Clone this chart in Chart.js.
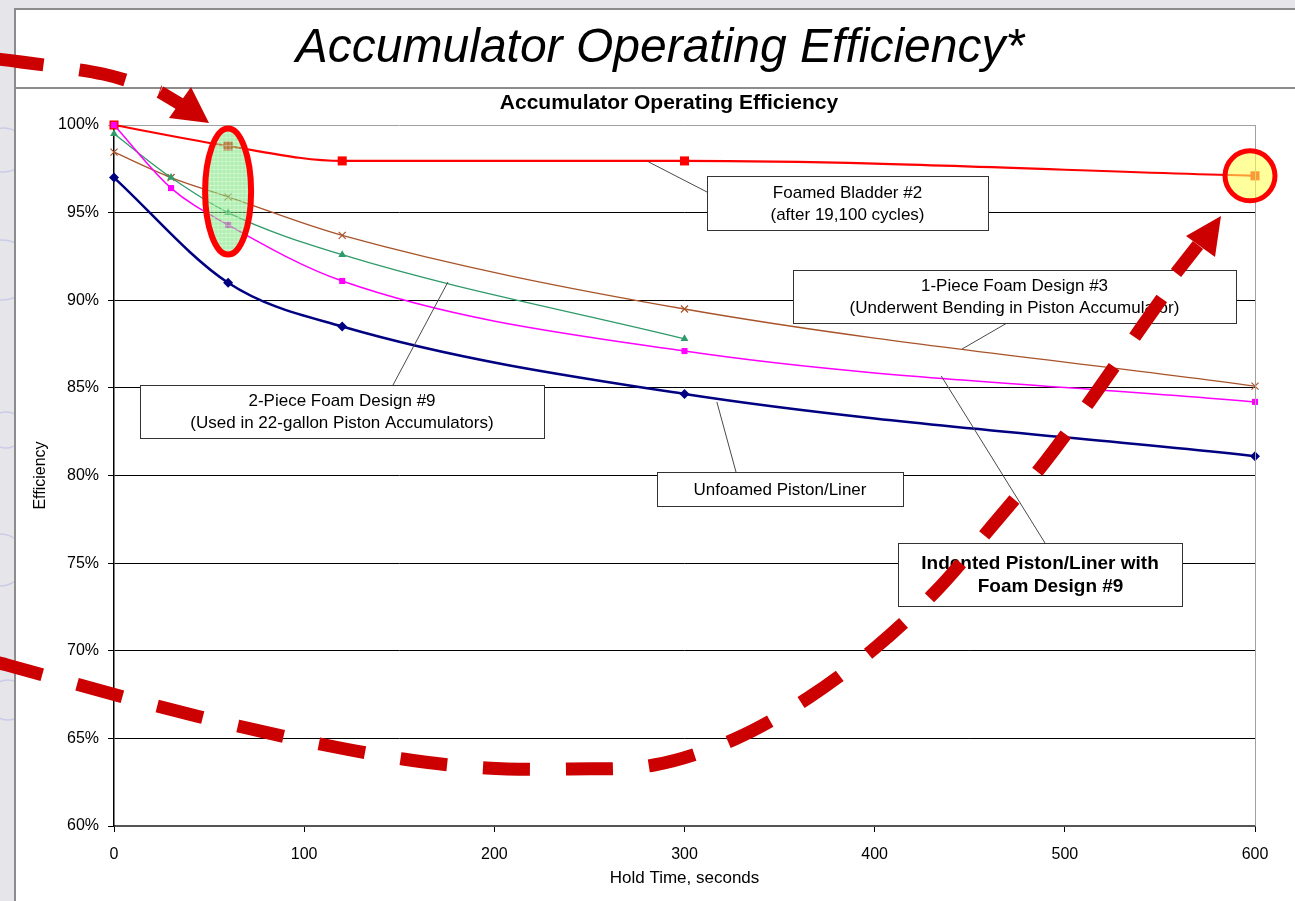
<!DOCTYPE html>
<html>
<head>
<meta charset="utf-8">
<script src="https://cdn.jsdelivr.net/npm/chart.js@4.4.1/dist/chart.umd.min.js"></script>
<style>
html, body { margin: 0; padding: 0; background: #e6e6ea; overflow: hidden; }
canvas { display: block; }
</style>
</head>
<body>
<canvas id="efficiencyChart" width="1295" height="901"></canvas>
<script>
// hold times (s) and efficiency (%)
const foamedTimes = [0, 60, 120, 300, 600]
const foamedBladder = [100, 98.8, 97.95, 97.95, 97.1]
const unfoamedTimes = [0, 60, 120, 300, 600]
const unfoamedPiston = [97.0, 91.0, 88.5, 84.65, 81.1]
const onePieceTimes = [0, 30, 60, 120, 300, 600]
const onePieceFoam = [98.45, 97.0, 95.9, 93.7, 89.5, 85.1]
const twoPieceTimes = [0, 30, 60, 120, 300]
const twoPieceFoam = [99.5, 97.0, 95.0, 92.6, 87.8]
const indentedTimes = [0, 30, 60, 120, 300, 600]
const indentedPiston = [100, 96.4, 94.3, 91.1, 87.1, 84.2]

const xTicks = [0, 100, 200, 300, 400, 500, 600]
const yTicks = [60, 65, 70, 75, 80, 85, 90, 95, 100]

const FONT = "Arial, 'Liberation Sans', sans-serif"

function pts(times, vals) {
    return times.map((t, i) => ({ x: t, y: vals[i] }))
}

// callout boxes: text, box rect in page px, anchor on the curve in data units, where the leader meets the box
const callouts = [
    { lines: ["Foamed Bladder #2", "(after 19,100 cycles)"], box: [707, 176, 281, 54], at: [281, 97.9], attach: [707, 192], bold: false },
    { lines: ["1-Piece Foam Design #3", "(Underwent Bending in Piston Accumulator)"], box: [793, 270, 443, 53], at: [446, 87.22], attach: [1007, 323], bold: false },
    { lines: ["2-Piece Foam Design #9", "(Used in 22-gallon Piston Accumulators)"], box: [140, 385, 404, 53], at: [175.6, 91.04], attach: [393, 385], bold: false },
    { lines: ["Unfoamed Piston/Liner"], box: [657, 472, 246, 34], at: [317, 84.2], attach: [736, 472], bold: false },
    { lines: ["Indented Piston/Liner with", "    Foam Design #9"], box: [898, 543, 284, 63], at: [435, 85.68], attach: [1045, 543], bold: true }
]

const slideFrame = {
    id: "slideFrame",
    beforeDraw(chart) {
        const ctx = chart.ctx
        ctx.save()
        ctx.fillStyle = "#e6e6ea"
        ctx.fillRect(0, 0, chart.width, chart.height)
        // faint sketch lines of the slide background
        ctx.strokeStyle = "rgba(170,170,230,0.45)"
        ctx.lineWidth = 1.5
        ;[[4, 150, 22], [2, 270, 30], [6, 430, 18], [0, 560, 26], [8, 700, 20]].forEach(c => {
            ctx.beginPath(); ctx.arc(c[0], c[1], c[2], 0, Math.PI * 2); ctx.stroke()
        })
        ctx.fillStyle = "#ffffff"
        ctx.fillRect(15, 9, chart.width - 15, chart.height - 9)
        ctx.strokeStyle = "#8c8c8c"
        ctx.lineWidth = 2
        ctx.beginPath()
        ctx.moveTo(chart.width, 9); ctx.lineTo(15, 9); ctx.lineTo(15, chart.height)
        ctx.moveTo(15, 88); ctx.lineTo(chart.width, 88)
        ctx.stroke()
        ctx.fillStyle = "#000"
        ctx.font = "italic 48px " + FONT
        ctx.textAlign = "center"
        ctx.textBaseline = "alphabetic"
        ctx.fillText("Accumulator Operating Efficiency*", 660, 62)
        // chart heading
        ctx.font = "bold 21px " + FONT
        ctx.textBaseline = "middle"
        ctx.fillText("Accumulator Operating Efficiency", 669, 103)
        ctx.restore()
    },
    afterDraw(chart) {
        const a = chart.chartArea
        const ctx = chart.ctx
        ctx.save()
        ctx.strokeStyle = "#a0a0a0"
        ctx.lineWidth = 1
        ctx.beginPath()
        ctx.moveTo(a.right + 0.5, a.top); ctx.lineTo(a.right + 0.5, a.bottom)
        ctx.stroke()
        ctx.restore()
    }
}

const calloutPlugin = {
    id: "callouts",
    afterDatasetsDraw(chart) {
        const ctx = chart.ctx
        const xs = chart.scales.x, ys = chart.scales.y
        ctx.save()
        callouts.forEach(c => {
            const px = xs.getPixelForValue(c.at[0]), py = ys.getPixelForValue(c.at[1])
            ctx.strokeStyle = "#4a4a4a"
            ctx.lineWidth = 1
            ctx.beginPath(); ctx.moveTo(px, py); ctx.lineTo(c.attach[0], c.attach[1]); ctx.stroke()
            const [bx, by, bw, bh] = c.box
            ctx.fillStyle = "#fff"
            ctx.fillRect(bx, by, bw, bh)
            ctx.strokeStyle = "#333"
            ctx.strokeRect(bx + 0.5, by + 0.5, bw, bh)
            ctx.fillStyle = "#000"
            ctx.font = (c.bold ? "bold 19px " : "17px ") + FONT
            ctx.textAlign = "center"
            ctx.textBaseline = "middle"
            const lh = c.bold ? 23 : 22
            const cy = by + bh / 2 - (c.lines.length - 1) * lh / 2
            c.lines.forEach((t, i) => ctx.fillText(t, bx + bw / 2, cy + i * lh + 1))
        })
        ctx.restore()
    }
}

function spline(ctx, p) {
    ctx.moveTo(p[0][0], p[0][1])
    for (let i = 0; i < p.length - 1; i++) {
        const p0 = p[Math.max(i - 1, 0)], p1 = p[i], p2 = p[i + 1], p3 = p[Math.min(i + 2, p.length - 1)]
        ctx.bezierCurveTo(p1[0] + (p2[0] - p0[0]) / 6, p1[1] + (p2[1] - p0[1]) / 6,
            p2[0] - (p3[0] - p1[0]) / 6, p2[1] - (p3[1] - p1[1]) / 6, p2[0], p2[1])
    }
}

function arrowHead(ctx, tip, b1, b2) {
    ctx.beginPath(); ctx.moveTo(tip[0], tip[1]); ctx.lineTo(b1[0], b1[1]); ctx.lineTo(b2[0], b2[1]); ctx.closePath(); ctx.fill()
}

// red highlight marks drawn over the slide
const highlights = {
    id: "highlights",
    afterDraw(chart) {
        const ctx = chart.ctx
        const xs = chart.scales.x, ys = chart.scales.y
        ctx.save()
        // ellipse round the 60 s points
        const ex = xs.getPixelForValue(60), ey = ys.getPixelForValue(96.2)
        ctx.beginPath(); ctx.ellipse(ex, ey, 23, 63, 0, 0, Math.PI * 2)
        ctx.fillStyle = "rgba(110,225,110,0.55)"; ctx.fill()
        ctx.save(); ctx.clip()
        ctx.strokeStyle = "rgba(255,255,255,0.35)"; ctx.lineWidth = 1
        ctx.beginPath()
        for (let g = -30; g <= 30; g += 4) { ctx.moveTo(ex + g, ey - 70); ctx.lineTo(ex + g, ey + 70) }
        for (let g = -70; g <= 70; g += 4) { ctx.moveTo(ex - 30, ey + g); ctx.lineTo(ex + 30, ey + g) }
        ctx.stroke(); ctx.restore()
        ctx.beginPath(); ctx.ellipse(ex, ey, 23, 63, 0, 0, Math.PI * 2)
        ctx.lineWidth = 6; ctx.strokeStyle = "#ff0000"; ctx.stroke()
        // circle round the 600 s bladder point
        const cx = xs.getPixelForValue(600) - 5, cy = ys.getPixelForValue(97.1)
        ctx.beginPath(); ctx.arc(cx, cy, 25, 0, Math.PI * 2)
        ctx.fillStyle = "rgba(255,255,90,0.6)"; ctx.fill()
        ctx.lineWidth = 5; ctx.strokeStyle = "#ff0000"; ctx.stroke()

        ctx.strokeStyle = "#cc0000"; ctx.fillStyle = "#cc0000"
        ctx.lineWidth = 13
        ctx.setLineDash([47, 36])
        ctx.beginPath()
        spline(ctx, [[-3, 59], [21, 62], [103, 74], [160, 92]])
        ctx.stroke()
        ctx.beginPath()
        spline(ctx, [[-3, 663], [7, 665], [76, 684], [157, 706], [238, 726], [320, 744], [403, 759], [486, 768], [570, 769],
            [654, 765], [735, 739], [808, 698], [875, 648], [937, 590], [992, 526], [1045, 462], [1095, 394], [1143, 325], [1170, 287]])
        ctx.stroke()
        ctx.setLineDash([])
        ctx.beginPath(); ctx.moveTo(160, 92); ctx.lineTo(180, 104); ctx.stroke()
        ctx.beginPath(); ctx.moveTo(1176, 273); ctx.lineTo(1198, 245); ctx.stroke()
        arrowHead(ctx, [209, 123], [169, 118], [191, 87])
        arrowHead(ctx, [1221, 216], [1186, 236], [1215, 257])
        ctx.restore()
    }
}

const ctx = document.getElementById("efficiencyChart")
new Chart(ctx, {
    type: "line",
    data: {
        datasets: [
            { label: "Indented Piston/Liner with Foam Design #9", data: pts(indentedTimes, indentedPiston), borderColor: "#ff00ff", backgroundColor: "#ff00ff", borderWidth: 1.5, pointStyle: "rect", pointRadius: 4.3, pointBorderWidth: 0 },
            { label: "2-Piece Foam Design #9", data: pts(twoPieceTimes, twoPieceFoam), borderColor: "#2f9a6a", backgroundColor: "#2f9a6a", borderWidth: 1.3, pointStyle: "triangle", pointRadius: 4.5, pointBorderWidth: 0 },
            { label: "1-Piece Foam Design #3", data: pts(onePieceTimes, onePieceFoam), borderColor: "#a8542a", backgroundColor: "#a8542a", borderWidth: 1.3, pointStyle: "crossRot", pointRadius: 5, pointBorderWidth: 1.2 },
            { label: "Unfoamed Piston/Liner", data: pts(unfoamedTimes, unfoamedPiston), borderColor: "#000080", backgroundColor: "#000080", borderWidth: 2.5, pointStyle: "rectRot", pointRadius: 5, pointBorderWidth: 0 },
            { label: "Foamed Bladder #2", data: pts(foamedTimes, foamedBladder), borderColor: "#ff0000", backgroundColor: "#ff0000", borderWidth: 2.2, pointStyle: "rect", pointRadius: 6.4, pointBorderWidth: 0 }
        ]
    },
    options: {
        responsive: false,
        animation: false,
        events: [],
        elements: { line: { tension: 0.35, cubicInterpolationMode: "monotone" } },
        datasets: { line: { clip: false } },
        layout: { padding: { top: 125, left: 15, right: 40, bottom: 0 } },
        plugins: {
            legend: { display: false },
            tooltip: { enabled: false },
            title: { display: false }
        },
        scales: {
            x: {
                type: "linear",
                min: 0, max: 600,
                afterBuildTicks: s => { s.ticks = xTicks.map(v => ({ value: v })) },
                ticks: { color: "#000", font: { family: FONT, size: 16 }, padding: 13, maxRotation: 0 },
                grid: { drawOnChartArea: false, drawTicks: true, tickLength: 6, color: "#000" },
                border: { color: "#555", width: 2 },
                title: { display: true, text: "Hold Time, seconds", color: "#000", font: { family: FONT, size: 17 }, padding: { top: 4, bottom: 12 } },
                afterFit: s => { s.height = 75 }
            },
            y: {
                min: 60, max: 100,
                afterBuildTicks: s => { s.ticks = yTicks.map(v => ({ value: v })) },
                ticks: { color: "#000", font: { family: FONT, size: 16 }, padding: 9, callback: v => v + "%" },
                grid: { color: c => c.tick && c.tick.value === 100 ? "#a0a0a0" : "#000", tickLength: 6, lineWidth: 1 },
                border: { color: "#000", width: 1.5 },
                title: { display: true, text: "Efficiency", color: "#000", font: { family: FONT, size: 16 }, padding: { top: 16, bottom: 0 } },
                afterFit: s => { s.width = 99 }
            }
        }
    },
    plugins: [slideFrame, calloutPlugin, highlights]
})
</script>
</body>
</html>
